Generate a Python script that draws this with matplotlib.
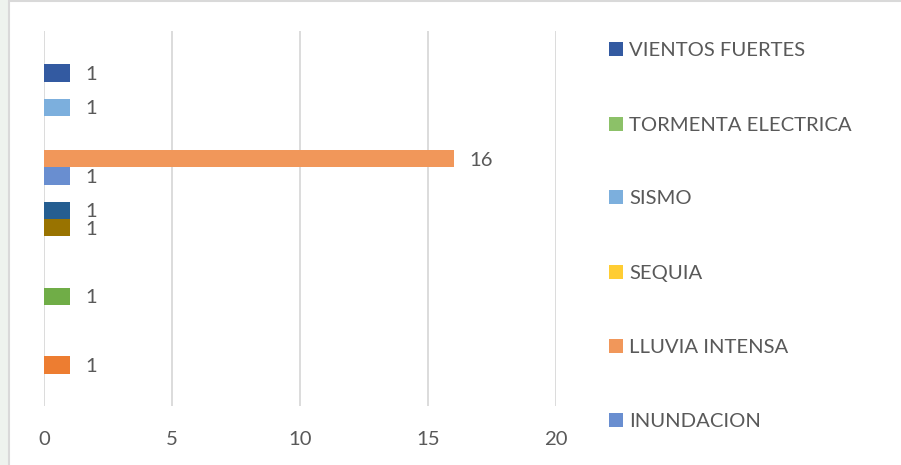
import numpy as np
import matplotlib.pyplot as plt
from matplotlib.patches import Rectangle

# 19 series in one category (series 1 at the bottom); blanks are NaN
series_values = [np.nan, 1, np.nan, np.nan, np.nan, 1, np.nan, np.nan, np.nan, 1,
                 1, np.nan, 1, 16, np.nan, np.nan, 1, np.nan, 1]
series_colors = ["#4472C4", "#ED7D31", "#A5A5A5", "#FFC000", "#5B9BD5", "#70AD47",
                 "#264478", "#9E480E", "#636363", "#997300", "#255E91", "#43682B",
                 "#698ED0", "#F1975A", "#B7B7B7", "#FFCD33", "#7CAFDD", "#8CC168",
                 "#335AA1"]

legend_labels = ["VIENTOS FUERTES", "TORMENTA ELECTRICA", "SISMO", "SEQUIA",
                 "LLUVIA INTENSA", "INUNDACION"]
legend_colors = ["#335AA1", "#8CC168", "#7CAFDD", "#FFCD33", "#F1975A", "#698ED0"]

x_ticks = [0, 5, 10, 15, 20]

TXT = "#595959"
FONT = "Lato"
FS = 14.6

W, H = 901, 465
fig = plt.figure(figsize=(W / 100, H / 100), dpi=100)

# faint outer background + chart border
fig.patches.append(Rectangle((0, 0), 8.5 / W, 1, transform=fig.transFigure,
                             facecolor="#EEF3EE", edgecolor="none", zorder=-2))
fig.patches.append(Rectangle((8.5 / W, -0.01), 1, (H - 1.5) / H + 0.01,
                             transform=fig.transFigure, facecolor="white",
                             edgecolor="#D9D9D9", linewidth=1.5, zorder=-2))

ax = fig.add_axes([44 / W, (H - 406) / H, 512 / W, 375 / H], zorder=1)
ax.patch.set_alpha(0)

ypos = np.arange(len(series_values))
for y, v, c in zip(ypos, series_values, series_colors):
    if np.isnan(v):
        continue
    ax.barh(y, v, height=1.0, color=c, zorder=3)
    ax.annotate(f"{int(v)}", (v, y), xytext=(11.5, 0), textcoords="offset points",
                ha="left", va="center_baseline", fontsize=FS, color=TXT, family=FONT)

ax.set_xlim(0, 20)
ax.set_ylim(-1.385, 20.44)
ax.set_xticks(x_ticks)
ax.set_xticklabels([str(t) for t in x_ticks], fontsize=FS, color=TXT, family=FONT)
ax.set_yticks([])
ax.tick_params(axis="x", length=0, pad=18)
ax.grid(axis="x", color="#D9D9D9", linewidth=1.3, zorder=0)
for s in ax.spines.values():
    s.set_visible(False)

# legend, drawn entry by entry
leg_y = [49, 124, 197, 272, 346, 420]
for lab, col, yy in zip(legend_labels, legend_colors, leg_y):
    fig.patches.append(Rectangle((609 / W, (H - yy - 7) / H), 14 / W, 14 / H,
                                 transform=fig.transFigure, facecolor=col,
                                 edgecolor="none"))
    fig.text(629 / W, (H - yy) / H, lab, ha="left", va="center_baseline",
             fontsize=FS, color=TXT, family=FONT)

fig.savefig("out.png", dpi=100)
